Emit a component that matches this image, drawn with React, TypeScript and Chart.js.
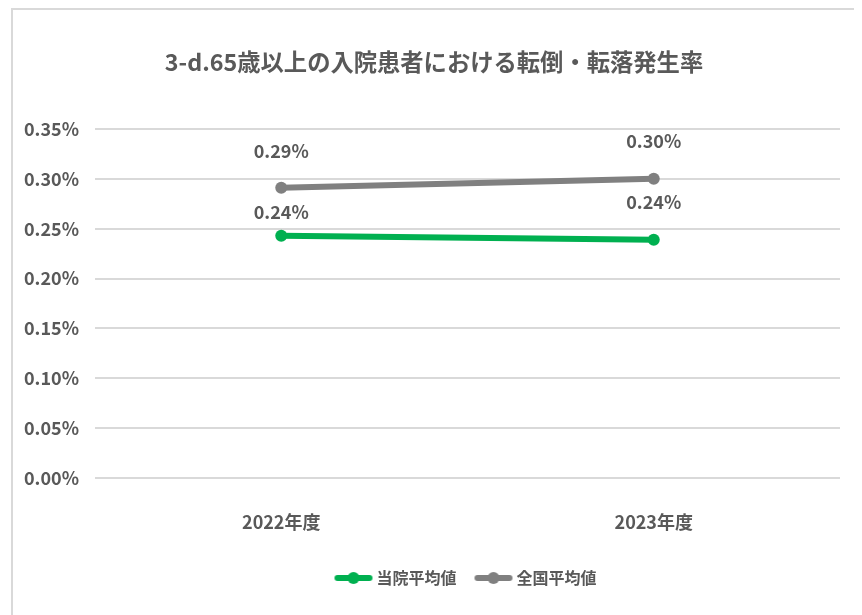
import React, { useEffect, useRef } from "react";
import { Chart, registerables } from "chart.js";

Chart.register(...registerables);

const TITLE = "3-d.65歳以上の入院患者における転倒・転落発生率";
const categories = ["2022年度", "2023年度"];
const seriesNames = ["当院平均値", "全国平均値"];
const hospitalAvg = [0.243, 0.239];
const nationalAvg = [0.291, 0.3];
const yMin = 0;
const yMax = 0.35;
const yStep = 0.05;

const FONT = "'Noto Sans CJK JP', 'Noto Sans', sans-serif";
const TEXT = "#595959";
const GREEN = "#00B050";
const GRAY = "#808080";

function makeLegendIcon(color: string): HTMLCanvasElement {
  const c = document.createElement("canvas");
  c.width = 40;
  c.height = 14;
  const g = c.getContext("2d")!;
  g.strokeStyle = color;
  g.lineWidth = 6;
  g.lineCap = "round";
  g.beginPath();
  g.moveTo(4, 7);
  g.lineTo(36, 7);
  g.stroke();
  g.fillStyle = color;
  g.beginPath();
  g.arc(20, 7, 6, 0, Math.PI * 2);
  g.fill();
  return c;
}

const valueLabels = {
  id: "valueLabels",
  afterDatasetsDraw(chart: any, _args: any, opts: any) {
    const ctx = chart.ctx;
    ctx.save();
    ctx.font = `bold ${opts.size}px ${FONT}`;
    ctx.fillStyle = opts.color;
    ctx.textAlign = "center";
    ctx.textBaseline = "middle";
    chart.data.datasets.forEach((ds: any, i: number) => {
      const meta = chart.getDatasetMeta(i);
      meta.data.forEach((pt: any, j: number) => {
        const off = opts.offsets[i][j];
        ctx.fillText(Number(ds.data[j]).toFixed(2) + "%", pt.x, pt.y - off);
      });
    });
    ctx.restore();
  },
};

export default function App() {
  const ref = useRef<HTMLCanvasElement>(null);

  useEffect(() => {
    if (!ref.current) return;
    const icons = [makeLegendIcon(GREEN), makeLegendIcon(GRAY)];
    const chart = new Chart(ref.current, {
      type: "line",
      data: {
        labels: categories,
        datasets: [
          {
            label: seriesNames[0],
            data: hospitalAvg,
            borderColor: GREEN,
            backgroundColor: GREEN,
            borderWidth: 6,
            pointRadius: 6,
            pointBorderWidth: 0,
            pointBackgroundColor: GREEN,
            pointStyle: "circle",
            tension: 0,
          },
          {
            label: seriesNames[1],
            data: nationalAvg,
            borderColor: GRAY,
            backgroundColor: GRAY,
            borderWidth: 6,
            pointRadius: 6,
            pointBorderWidth: 0,
            pointBackgroundColor: GRAY,
            pointStyle: "circle",
            tension: 0,
          },
        ],
      },
      options: {
        responsive: false,
        animation: false,
        layout: { padding: { left: 0, right: 2, top: 0, bottom: 19 } },
        scales: {
          x: {
            offset: true,
            grid: { display: false, drawTicks: false },
            border: { display: false },
            ticks: {
              padding: 33,
              color: TEXT,
              font: { family: FONT, size: 18, weight: "bold" },
            },
            afterFit(scale: any) {
              scale.height = 70;
            },
          },
          y: {
            min: yMin,
            max: yMax,
            grid: { color: "#d9d9d9", lineWidth: 2, drawTicks: false },
            border: { display: false },
            ticks: {
              stepSize: yStep,
              padding: 16,
              color: TEXT,
              font: { family: FONT, size: 18, weight: "bold" },
              callback: (v: any) => Number(v).toFixed(2) + "%",
            },
            afterFit(scale: any) {
              scale.width = 87;
            },
          },
          yRightSpace: {
            type: "linear",
            position: "right",
            display: true,
            grid: { display: false, drawTicks: false },
            border: { display: false },
            ticks: { display: false },
            afterFit(scale: any) {
              scale.width = 20;
            },
          },
        },
        plugins: {
          title: {
            display: true,
            text: TITLE,
            color: TEXT,
            font: { family: FONT, size: 23.3, weight: "bold", lineHeight: 1.2 },
            padding: { top: 40, bottom: 53 },
          },
          legend: {
            position: "bottom",
            fullSize: false,
            labels: {
              usePointStyle: true,
              pointStyleWidth: 30,
              padding: 22,
              color: TEXT,
              font: { family: FONT, size: 16, weight: "bold" },
              generateLabels(chart: any) {
                return chart.data.datasets.map((ds: any, i: number) => ({
                  text: ds.label,
                  pointStyle: icons[i],
                  fillStyle: ds.borderColor,
                  strokeStyle: ds.borderColor,
                  lineWidth: 0,
                  fontColor: TEXT,
                  hidden: false,
                  datasetIndex: i,
                }));
              },
            },
          },
          tooltip: { enabled: false },
          valueLabels: {
            size: 18,
            color: TEXT,
            offsets: [
              [24, 37],
              [37, 38],
            ],
          },
        } as any,
      },
      plugins: [valueLabels as any],
    });
    return () => chart.destroy();
  }, []);

  return (
    <div style={{ position: "relative", width: 854, height: 607 }}>
      <canvas ref={ref} width={854} height={607} style={{ display: "block" }} />
      <div
        style={{
          position: "absolute",
          left: 3,
          top: 0,
          width: 845,
          height: 620,
          border: "2px solid #d9d9d9",
          pointerEvents: "none",
        }}
      />
    </div>
  );
}
